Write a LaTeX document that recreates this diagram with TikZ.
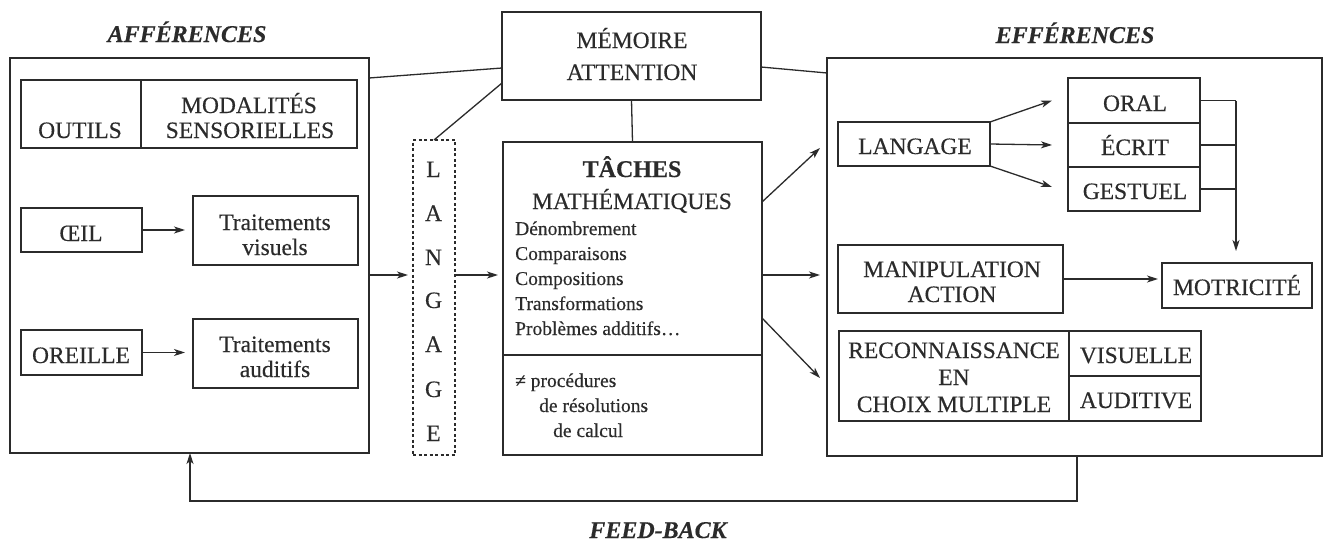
\documentclass[tikz,border=0pt]{standalone}
\usepackage{fontspec}
\setmainfont{Liberation Serif}[FakeBold=0.35]
\usetikzlibrary{arrows.meta,calc}
\definecolor{ink}{HTML}{2B2B2B}
\begin{document}
\begin{tikzpicture}[x=1pt,y=-1pt,
  box/.style={draw=ink, line width=1.3pt, rectangle, inner sep=0pt, outer sep=0pt},
  dbox/.style={box, dash pattern=on 3pt off 2.5pt},
  txt/.style={anchor=base, inner sep=0pt, text=ink, font=\fontsize{23.5}{27}\selectfont},
  small/.style={anchor=base west, inner sep=0pt, text=ink, font=\fontsize{19.5}{25}\selectfont},
  ttl/.style={anchor=base, inner sep=0pt, text=ink, font=\fontsize{24}{28}\selectfont\bfseries\itshape},
  ln/.style={draw=ink, line width=1.3pt},
  arr/.style={ln, -{Stealth[length=11pt,width=7pt,inset=3pt]}}]
\fill[white] (0,0) rectangle (1324,541);
\useasboundingbox (0,0) rectangle (1324,541);

% ---------- titles
\node[ttl] (taff) at (187,42) {AFFÉRENCES};
\node[ttl] (teff) at (1075,43) {EFFÉRENCES};
\node[ttl] (tfb) at (658,538) {FEED-BACK};

% ---------- afferences
\node[box, minimum width=359pt, minimum height=395pt] (aff) at (189.5,255.5) {};
\node[box, minimum width=120pt, minimum height=68pt] (outils) at (81,114) {};
\node[box, minimum width=216pt, minimum height=68pt] (modal) at (249,114) {};
\node[txt] (toutils) at (80,138) {OUTILS};
\node[txt] (tmod1) at (249,113) {MODALITÉS};
\node[txt] (tmod2) at (250,138) {SENSORIELLES};

\node[box, minimum width=121pt, minimum height=44pt] (oeil) at (81.5,230) {};
\node[txt] (toeil) at (81,241) {ŒIL};
\node[box, minimum width=165pt, minimum height=69pt] (tvis) at (275.5,230.5) {};
\node[txt] (ttv1) at (275,230) {Traitements};
\node[txt] (ttv2) at (275,255) {visuels};

\node[box, minimum width=121pt, minimum height=45pt] (oreille) at (81.5,352.5) {};
\node[txt] (toreille) at (81,363) {OREILLE};
\node[box, minimum width=165pt, minimum height=69pt] (taud) at (275.5,353.5) {};
\node[txt] (tta1) at (275,352) {Traitements};
\node[txt] (tta2) at (275,377) {auditifs};

\draw[arr, shorten >=8pt] (oeil.east) -- (oeil.east -| tvis.west);
\draw[arr, shorten >=8pt] (oreille.east) -- (oreille.east -| taud.west);

% ---------- langage (dashed)
\node[dbox, minimum width=42pt, minimum height=315pt] (lang) at (434,297.5) {};
\foreach \l/\y [count=\i] in {L/177,A/221,N/265,G/308,A/352,G/397,E/441}
  \node[txt] (lg\i) at (433.5,\y) {\l};

% ---------- memoire
\node[box, minimum width=259pt, minimum height=88pt] (mem) at (631.5,56) {};
\node[txt] (tmem1) at (632,48) {MÉMOIRE};
\node[txt] (tmem2) at (632,80) {ATTENTION};

% ---------- taches
\node[box, minimum width=259pt, minimum height=313pt] (tach) at (632.5,298.5) {};
\draw[ln] (tach.west |- 0,355) -- (tach.east |- 0,355);
\node[txt, font=\fontsize{24}{28}\selectfont\bfseries] (tt1) at (632,177) {TÂCHES};
\node[txt] (tt2) at (632,209) {MATHÉMATIQUES};
\node[small] (l1) at (515,235) {Dénombrement};
\node[small] (l2) at (515,260) {Comparaisons};
\node[small] (l3) at (515,285) {Compositions};
\node[small] (l4) at (515,310) {Transformations};
\node[small] (l5) at (515,335) {Problèmes additifs…};
\node[small] (p1) at (515,387) {≠ procédures};
\node[small] (p2) at (539,412) {de résolutions};
\node[small] (p3) at (553,437) {de calcul};

% ---------- efferences
\node[box, minimum width=495pt, minimum height=398pt] (eff) at (1074.5,257) {};
\node[box, minimum width=152pt, minimum height=44pt] (langR) at (914,144) {};
\node[txt] (tlangR) at (915,154) {LANGAGE};

\node[box, minimum width=132pt, minimum height=45pt] (oral) at (1134,100.5) {};
\node[box, minimum width=132pt, minimum height=44pt] (ecrit) at (1134,145) {};
\node[box, minimum width=132pt, minimum height=44pt] (gest) at (1134,189) {};
\node[txt] (toral) at (1135,111) {ORAL};
\node[txt] (tecrit) at (1135,155) {ÉCRIT};
\node[txt] (tgest) at (1135,199) {GESTUEL};

\draw[arr] (langR.north east) -- ($(oral.west)+(-16,0)$);
\draw[arr] (langR.east) -- ($(ecrit.west)+(-16,0)$);
\draw[arr] (langR.south east) -- ($(gest.west)+(-16,-2)$);

\coordinate (bus) at ($(oral.east)+(36,0)$);
\draw[ln] (oral.east) -- (bus);
\draw[ln] (ecrit.east) -- (ecrit.east -| bus);
\draw[ln] (gest.east) -- (gest.east -| bus);

\node[box, minimum width=150pt, minimum height=45pt] (motr) at (1237,285.5) {};
\node[txt] (tmotr) at (1237,295) {MOTRICITÉ};
\draw[arr, shorten >=12pt] (bus) -- (bus |- motr.north);

\node[box, minimum width=225pt, minimum height=68pt] (manip) at (950.5,279) {};
\node[txt] (tman1) at (952,277) {MANIPULATION};
\node[txt] (tman2) at (952,302) {ACTION};
\draw[arr, shorten >=4pt] (manip.east) -- (manip.east -| motr.west);

\node[box, minimum width=230pt, minimum height=90pt] (reco) at (954,376) {};
\node[box, minimum width=132pt, minimum height=45pt] (vis) at (1135,353.5) {};
\node[box, minimum width=132pt, minimum height=45pt] (aud) at (1135,398.5) {};
\node[txt] (treco1) at (954,358) {RECONNAISSANCE};
\node[txt] (treco2) at (954,385) {EN};
\node[txt] (treco3) at (954,412) {CHOIX MULTIPLE};
\node[txt] (tvis2) at (1136,363) {VISUELLE};
\node[txt] (taud2) at (1136,408) {AUDITIVE};

% ---------- connectors
\draw[arr, shorten >=5pt] ($(aff.east |- lang.north)+(0,135)$) -- ($(lang.north west)+(0,135)$);
\draw[arr, shorten >=5pt] ($(lang.north east)+(0,135)$) -- ($(tach.north west)+(0,133)$);

\draw[ln] ($(aff.north east)+(0,20)$) -- ($(mem.north west)+(0,56)$);
\draw[ln] (lang.north) -- ($(mem.south west)+(0,-17)$);
\draw[ln] ($(mem.north east)+(0,55)$) -- ($(eff.north west)+(0,15)$);
\draw[ln] (mem.south) -- (tach.north);

\draw[arr] ($(tach.north east)+(0,60)$) -- ($(eff.north west)+(-7,90)$);
\draw[arr] ($(tach.north east)+(0,133)$) -- ($(eff.north west)+(-7,217)$);
\draw[arr] ($(tach.north east)+(0,176)$) -- ($(eff.north west)+(-7,320)$);

\draw[arr] ($(eff.south west)+(250,0)$) -- ++(0,45) -| ($(aff.south west)+(180,0)$);
\end{tikzpicture}
\end{document}
